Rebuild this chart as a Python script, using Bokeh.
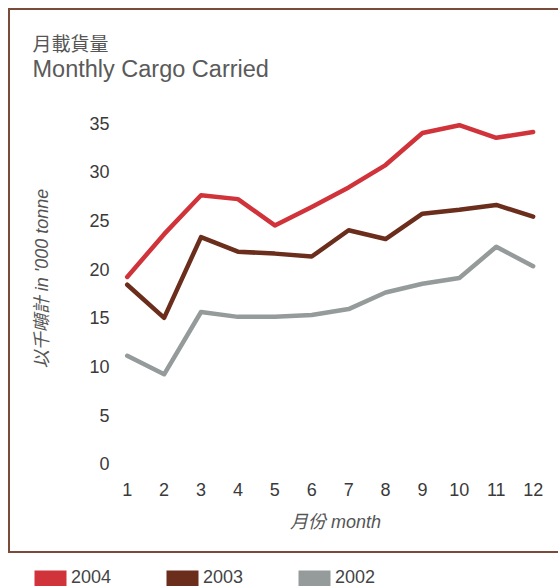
from bokeh.plotting import figure
from bokeh.layouts import column
from bokeh.models import (Range1d, FixedTicker, Legend, LegendItem, Title,
                          ColumnDataSource)
from bokeh.embed import file_html
from bokeh.resources import INLINE

# ---- data ----
months = [1, 2, 3, 4, 5, 6, 7, 8, 9, 10, 11, 12]
cargo_2004 = [19.2, 23.6, 27.6, 27.2, 24.5, 26.4, 28.4, 30.7, 34.0, 34.8, 33.5, 34.1]
cargo_2003 = [18.4, 15.0, 23.3, 21.8, 21.6, 21.3, 24.0, 23.1, 25.7, 26.1, 26.6, 25.4]
cargo_2002 = [11.1, 9.2, 15.6, 15.1, 15.1, 15.3, 15.9, 17.6, 18.5, 19.1, 22.3, 20.3]
y_ticks = [0, 5, 10, 15, 20, 25, 30, 35]
series_names = ["2004", "2003", "2002"]
series_colors = ["#d0343a", "#6b2d1c", "#959b9b"]

title_cn = "月載貨量"
title_en = "Monthly Cargo Carried"
x_label = "月份 month"
y_label = "以千噸計 in '000 tonne"

FONT = "Liberation Sans"
CJK = "Liberation Sans, Noto Sans CJK TC"
FRAME_COLOR = "#7a4a3a"

p = figure(width=558, height=553, output_backend="svg", toolbar_location=None,
           title=None,
           x_range=Range1d(0.818, 12.47), y_range=Range1d(-0.894, 38.98),
           min_border_left=120, min_border_right=8,
           min_border_top=84, min_border_bottom=81)

# outer frame drawn as CSS background lines behind the transparent canvas
g = "linear-gradient(%s, %s)" % (FRAME_COLOR, FRAME_COLOR)
p.styles = {
    "background-image": ", ".join([g, g, g]),
    "background-size": "2px 545px, 550px 2px, 550px 2px",
    "background-position": "8px 8px, 8px 8px, 8px 551px",
    "background-repeat": "no-repeat",
}

p.outline_line_color = None
p.xgrid.visible = False
p.ygrid.visible = False
p.background_fill_color = None
p.border_fill_color = None

for ax in (p.xaxis[0], p.yaxis[0]):
    ax.axis_line_color = None
    ax.major_tick_line_color = None
    ax.minor_tick_line_color = None
    ax.major_label_text_font = FONT
    ax.major_label_text_font_size = "18px"
    ax.major_label_text_color = "#3a3a3a"
    ax.axis_label_text_font = CJK
    ax.axis_label_text_font_size = "18px"
    ax.axis_label_text_font_style = "italic"
    ax.axis_label_text_color = "#555555"

p.xaxis.ticker = FixedTicker(ticks=months)
p.yaxis.ticker = FixedTicker(ticks=y_ticks)
p.xaxis.major_label_standoff = 4
p.yaxis.major_label_standoff = 5
p.xaxis.axis_label = x_label
p.yaxis.axis_label = y_label
p.xaxis.axis_label_standoff = 13
p.yaxis.axis_label_standoff = 34

series = [cargo_2004, cargo_2003, cargo_2002]
for name, vals, col in reversed(list(zip(series_names, series, series_colors))):
    src = ColumnDataSource(dict(x=months, y=vals))
    p.line("x", "y", source=src, line_color=col, line_width=4.5,
           line_join="round", line_cap="round")

# titles (later-added titles sit farther from the frame)
p.add_layout(Title(text=title_en, text_font=FONT, text_font_size="23.5px",
                   text_color="#5a5a5a", text_font_style="normal",
                   align="left", offset=-88, standoff=6), "above")
p.add_layout(Title(text=title_cn, text_font=CJK, text_font_size="19px",
                   text_color="#555555", text_font_style="normal",
                   align="left", offset=-88, standoff=-8), "above")

# legend strip below the framed chart
lg = figure(width=558, height=33, output_backend="svg", toolbar_location=None,
            title=None, x_axis_type=None, y_axis_type=None,
            min_border=0, x_range=Range1d(0, 1), y_range=Range1d(0, 1))
lg.styles = {"transform": "translateX(-120px)"}
lg.outline_line_color = None
lg.xgrid.visible = False
lg.ygrid.visible = False
lg.background_fill_color = None
lg.border_fill_color = None
nan = float("nan")
items = []
for name, col in zip(series_names, series_colors):
    # key swatch only: a quad with no drawable position
    r = lg.quad(left=[nan], right=[nan], top=[nan], bottom=[nan],
                fill_color=col, line_color=None)
    items.append(LegendItem(label=name, renderers=[r]))
legend = Legend(items=items, orientation="horizontal", location=(30, -2),
                glyph_width=40, glyph_height=20, label_height=20,
                label_standoff=1, label_width=91,
                spacing=0, padding=0, margin=0, border_line_color=None,
                background_fill_alpha=0, label_text_font=FONT,
                label_text_font_size="18px", label_text_color="#444444")
lg.add_layout(legend, "center")

layout = column(p, lg, spacing=0)
open("out.html", "w").write(file_html(layout, INLINE))
